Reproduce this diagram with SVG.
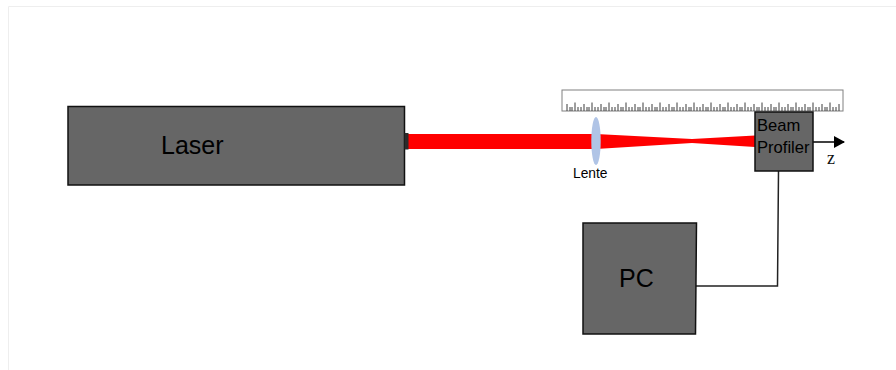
<svg xmlns="http://www.w3.org/2000/svg" width="896" height="370" viewBox="0 0 896 370">
<defs>
<style>
.box{fill:#666666;stroke:#111111;stroke-width:1.5}
.lbl{font-family:"Liberation Sans",Arial,sans-serif;fill:#000000}
.wire{fill:none;stroke:#222222;stroke-width:1.5}
</style>
<marker id="arrow" markerUnits="userSpaceOnUse" markerWidth="11" markerHeight="12" refX="10" refY="6" orient="auto"><path d="M0 0L11 6L0 12Z" fill="#000"/></marker>
</defs>
<rect width="896" height="370" fill="#fff"/>
<path d="M8.5 370V6.500H896" fill="none" stroke="#eeeeee"/>
<g id="ruler">
<rect x="562" y="90" width="281" height="21" fill="#fff" stroke="#808080"/>
<path d="M567 111V104M570 111V107M572 111V107M575 111V102.500M578 111V107M581 111V107M584 111V104M587 111V107M589 111V107M592 111V102.500M595 111V107M598 111V107M601 111V104M604 111V107M606 111V107M609 111V102.500M612 111V107M615 111V107M618 111V104M621 111V107M623 111V107M626 111V102.500M629 111V107M632 111V107M635 111V104M638 111V107M640 111V107M643 111V102.500M646 111V107M649 111V107M652 111V104M655 111V107M657 111V107M660 111V102.500M663 111V107M666 111V107M669 111V104M672 111V107M674 111V107M677 111V102.500M680 111V107M683 111V107M686 111V104M689 111V107M691 111V107M694 111V102.500M697 111V107M700 111V107M703 111V104M706 111V107M708 111V107M711 111V102.500M714 111V107M717 111V107M720 111V104M723 111V107M725 111V107M728 111V102.500M731 111V107M734 111V107M737 111V104M740 111V107M742 111V107M745 111V102.500M748 111V107M751 111V107M754 111V104M757 111V107M759 111V107M762 111V102.500M765 111V107M768 111V107M771 111V104M774 111V107M776 111V107M779 111V102.500M782 111V107M785 111V107M788 111V104M791 111V107M793 111V107M796 111V102.500M799 111V107M802 111V107M805 111V104M808 111V107M810 111V107M813 111V102.500M816 111V107M819 111V107M822 111V104M825 111V107M827 111V107M830 111V102.500M833 111V107M836 111V107M839 111V104" fill="none" stroke="#3c3c3c" stroke-width="1"/>
</g>
<g id="beam">
<path d="M408 134H596L692 139L755 135.500V147L692 143L596 149H408Z" fill="#ff0000"/>
</g>
<g id="laser">
<rect class="box" x="68" y="106.500" width="336.500" height="78.500"/>
<rect x="404.500" y="133" width="4" height="16.500" fill="#2b2b2b"/>
<text class="lbl" x="161" y="153.500" font-size="25">Laser</text>
</g>
<g id="lens">
<ellipse cx="596" cy="141" rx="4.700" ry="24" fill="#b0c4e6"/>
<text class="lbl" x="573" y="178" font-size="13.800">Lente</text>
</g>
<g id="connectors">
<path class="wire" d="M696 286H777.500L778.500 171"/>
<path d="M813 142H844" fill="none" stroke="#000" stroke-width="1.500" marker-end="url(#arrow)"/>
</g>
<g id="profiler">
<rect class="box" x="755" y="112" width="58" height="59"/>
<text class="lbl" x="757" y="131" font-size="16.600">Beam</text>
<text class="lbl" x="757" y="153" font-size="16.600">Profiler</text>
</g>
<text x="827" y="164" font-size="18" font-family="'Liberation Serif','Times New Roman',serif" fill="#111">z</text>
<g id="pc">
<path class="box" d="M583 223H696.500L695.500 334H583Z"/>
<text class="lbl" x="619" y="287" font-size="25">PC</text>
</g>
</svg>
